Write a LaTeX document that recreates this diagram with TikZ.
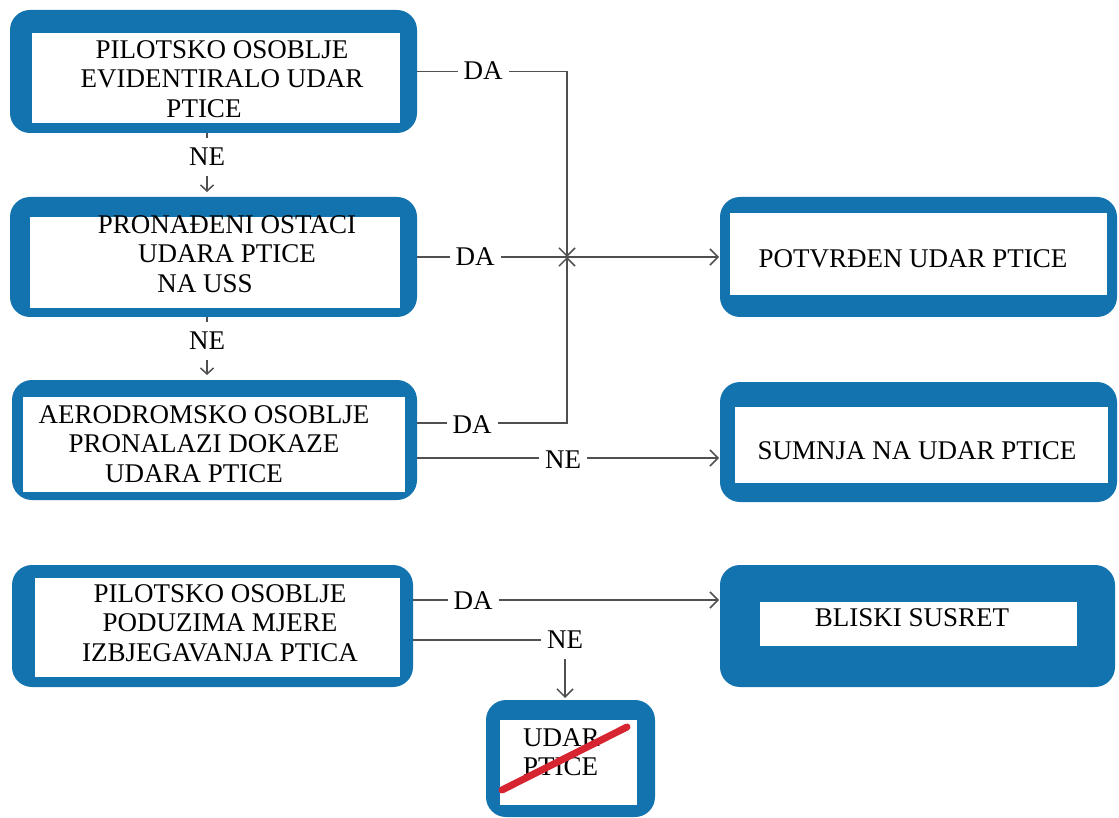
\documentclass[tikz,border=0pt]{standalone}
\usepackage{fontspec}
\setmainfont{Liberation Serif}
\usetikzlibrary{arrows.meta,fit}
\definecolor{boxblue}{RGB}{18,115,175}
\definecolor{linegray}{RGB}{80,80,80}
\definecolor{strikered}{RGB}{214,36,48}
\tikzset{
 outerbox/.style={fill=boxblue, rounded corners=20pt, inner sep=0pt, outer sep=0pt},
 innerbox/.style={fill=white, inner sep=0pt, outer sep=0pt},
 txt/.style={font=\fontsize{27}{29.5}\selectfont, align=center, inner sep=0pt, text=black},
 conn/.style={draw=linegray, line width=1.5pt},
 arr/.style={conn, -{Straight Barb[length=8pt,width=16pt,line width=1.5pt]}},
 arrsmall/.style={conn, -{Straight Barb[length=6pt,width=13pt,line width=1.5pt]}},
 lbl/.style={fill=white, font=\fontsize{27}{29.5}\selectfont, inner xsep=6pt, inner ysep=2pt, text=black},
 vlbl/.style={lbl, inner ysep=10pt},
 strike/.style={draw=strikered, line width=7pt, line cap=round},
}
\begin{document}
\begin{tikzpicture}[x=1pt,y=-1pt]
\useasboundingbox (0,0) rectangle (1119,818);
% outer boxes
\node[outerbox, fit={(10,10) (417,133)}] (b1) {};
\node[outerbox, fit={(10,197) (417,317)}] (b2) {};
\node[outerbox, fit={(12,380) (417,500)}] (b3) {};
\node[outerbox, fit={(12,565) (413,687)}] (b4) {};
\node[outerbox, fit={(720,197) (1117,317)}] (p) {};
\node[outerbox, fit={(720,382) (1117,502)}] (s) {};
\node[outerbox, fit={(720,565) (1115,687)}] (bs) {};
\node[outerbox, fit={(486,700) (655,817)}] (u) {};
% inner white fields
\node[innerbox, fit={(32,33) (400,123)}] (b1i) {};
\node[innerbox, fit={(30,217) (400,308)}] (b2i) {};
\node[innerbox, fit={(23,397) (405,492)}] (b3i) {};
\node[innerbox, fit={(35,578) (400,677)}] (b4i) {};
\node[innerbox, fit={(730,213) (1107,295)}] (pi) {};
\node[innerbox, fit={(735,407) (1108,483)}] (si) {};
\node[innerbox, fit={(760,602) (1077,646)}] (bsi) {};
\node[innerbox, fit={(500,720) (637,805)}] (ui) {};
% texts
\node[txt] (t1) at (222,79) {PILOTSKO OSOBLJE\\EVIDENTIRALO UDAR\\PTICE\hspace*{36pt}};
\node[txt] (t2) at (227,254) {PRONAĐENI OSTACI\\UDARA PTICE\hspace*{22pt}\\NA USS\hspace*{44pt}};
\node[txt] (t3) at (204,444) {AERODROMSKO OSOBLJE\\PRONALAZI DOKAZE\\UDARA PTICE\hspace*{20pt}};
\node[txt] (t4) at (220,623) {PILOTSKO OSOBLJE\\PODUZIMA MJERE\\IZBJEGAVANJA PTICA};
\node[txt] (tp) at (913,259) {POTVRĐEN UDAR PTICE};
\node[txt] (ts) at (917,451) {SUMNJA NA UDAR PTICE};
\node[txt] (tbs) at (912,618) {BLISKI SUSRET};
\node[txt, align=left, anchor=west] (tu) at (523,752) {UDAR\\PTICE};
% connectors
\coordinate (j) at (567,257);
\coordinate (uin) at (565,698);
\draw[arr] (b1.east) -| (j);
\draw[arr] (b3.east |- 0,423) -| (j);
\draw[arr, shorten >=1pt] (b2.east) -- (p.west);
\draw[arr, shorten >=1pt] (b3.east |- 0,458) -- (s.west |- 0,458);
\draw[arr, shorten >=1pt] (b4.east |- 0,600) -- (bs.west |- 0,600);
\draw[arr] (b4.east |- 0,640) -| (uin);
\draw[arrsmall, shorten >=5pt] (b1.south -| 207,0) -- (b2.north -| 207,0);
\draw[arrsmall, shorten >=5pt] (b2.south -| 207,0) -- (b3.north -| 207,0);
% labels
\node[lbl] (da1) at (483,71) {DA};
\node[lbl] (da2) at (475,257) {DA};
\node[lbl] (da3) at (472,425) {DA};
\node[lbl] (da4) at (473,601) {DA};
\node[lbl] (ne3) at (563,460) {NE};
\node[vlbl] (ne4) at (565,640) {NE};
\node[vlbl] (ne1) at (207,157) {NE};
\node[vlbl] (ne2) at (207,341) {NE};
% strike-through
\draw[strike] (502,790) -- (627,727);
\end{tikzpicture}
\end{document}
